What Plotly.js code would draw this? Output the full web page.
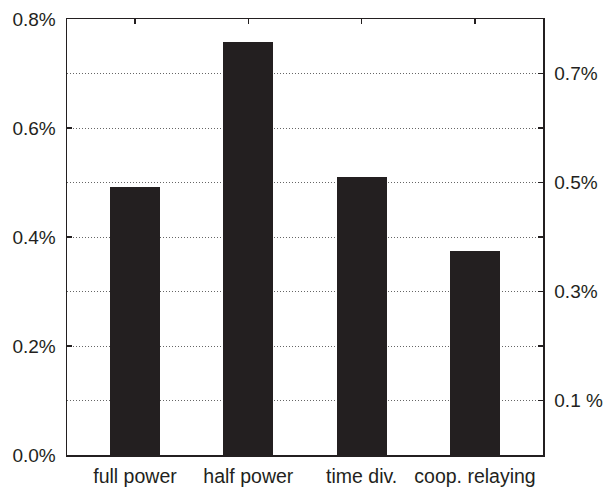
<!DOCTYPE html>
<html>
<head>
<meta charset="utf-8">
<script src="https://cdn.plot.ly/plotly-3.0.1.min.js"></script>
<style>html,body{margin:0;padding:0;background:#fff;}#chart{width:606px;height:487px;}</style>
</head>
<body>
<div id="chart"></div>
<script>
const categories = ["full power", "half power", "time div.", "coop. relaying"];
const values = [0.491, 0.757, 0.510, 0.375];
const leftTickVals = [0, 0.2, 0.4, 0.6, 0.8];
const leftTickText = ["0.0%", "0.2%", "0.4%", "0.6%", "0.8%"];
const rightTickVals = [0.1, 0.2, 0.3, 0.4, 0.5, 0.6, 0.7, 0.8];
const rightTickText = ["0.1 %", "", "0.3%", "", "0.5%", "", "0.7%", ""];

const font = {family: "Liberation Sans, Arial, sans-serif", size: 19, color: "#231f20"};

const data = [
  {
    type: "scatter", mode: "markers",
    x: categories, y: values,
    yaxis: "y",
    marker: {opacity: 0, size: 1},
    hoverinfo: "none"
  },
  {
    type: "bar",
    x: categories,
    y: values,
    yaxis: "y2",
    width: 0.44,
    marker: {color: "#231f20", line: {width: 0}},
    hoverinfo: "none"
  }
];

const layout = {
  width: 606, height: 487,
  margin: {l: 67, r: 63, t: 19, b: 31.5, pad: 0},
  paper_bgcolor: "#fff", plot_bgcolor: "#fff",
  showlegend: false,
  font: font,
  bargap: 0,
  xaxis: {
    type: "category",
    range: [-0.6, 3.6],
    ticks: "inside", ticklen: 5, tickcolor: "#231f20", tickwidth: 1.2,
    showline: true, linecolor: "#231f20", linewidth: 1.5,
    mirror: "ticks",
    showgrid: false, zeroline: false,
    tickfont: {family: "Liberation Sans, Arial, sans-serif", size: 19.5, color: "#231f20"},
    ticklabelstandoff: 3
  },
  yaxis: {
    range: [0, 0.8],
    tickvals: leftTickVals, ticktext: leftTickText,
    ticks: "inside", ticklen: 5, tickcolor: "#231f20", tickwidth: 1.2,
    showline: true, linecolor: "#231f20", linewidth: 1.5,
    showgrid: false, zeroline: false,
    tickfont: font,
    ticklabelstandoff: 6
  },
  yaxis2: {
    overlaying: "y", side: "right",
    range: [0, 0.8],
    tickvals: rightTickVals, ticktext: rightTickText,
    ticks: "inside", ticklen: 5, tickcolor: "#231f20", tickwidth: 1.2,
    showline: true, linecolor: "#231f20", linewidth: 1.5,
    showgrid: true, gridcolor: "#666", gridwidth: 1, griddash: "1px,2px",
    zeroline: false,
    tickfont: font,
    ticklabelstandoff: 6
  }
};

Plotly.newPlot("chart", data, layout, {staticPlot: true, displayModeBar: false});
</script>
</body>
</html>
